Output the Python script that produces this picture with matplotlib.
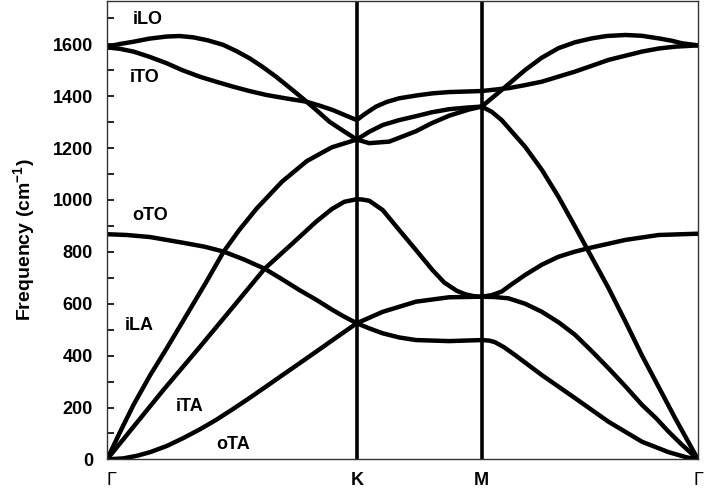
import numpy as np
import matplotlib
matplotlib.use('Agg')
import matplotlib.pyplot as plt

plt.rcParams['font.family'] = ['Liberation Sans', 'DejaVu Sans']
plt.rcParams['mathtext.fontset'] = 'custom'
plt.rcParams['mathtext.rm'] = 'Liberation Sans'
plt.rcParams['mathtext.bf'] = 'Liberation Sans:bold'

# high-symmetry points (distance along path, |ΓK| = 1)
k_pos = [0.0, 1.0, 1.5, 2.366]
k_labels = ['Γ', 'K', 'M', 'Γ']

# phonon branches, path Γ-K-M-Γ
oTA_x = [0, 0.066, 0.12, 0.173, 0.24, 0.305, 0.372, 0.438, 0.504, 0.571, 0.637, 0.704, 0.77, 0.837, 0.93, 1.0,
         1.05, 1.104, 1.17, 1.237, 1.37, 1.5,
         1.53, 1.553, 1.59, 1.634, 1.741, 1.874, 2.008, 2.142, 2.248, 2.32, 2.366]
oTA_y = [0, 4, 14, 28, 52, 82, 116, 153, 194, 237, 281, 326, 370, 415, 478, 525,
         505, 486, 470, 460, 456, 460,
         458, 452, 432, 402, 325, 236, 145, 68, 28, 8, 0]

oTO_x = [0, 0.08, 0.173, 0.305, 0.39, 0.467, 0.55, 0.631, 0.7, 0.77, 0.84, 0.903, 0.95, 1.0,
         1.05, 1.104, 1.237, 1.37, 1.5,
         1.54, 1.58, 1.62, 1.674, 1.74, 1.807, 1.87, 1.927, 2.075, 2.208, 2.366]
oTO_y = [868, 865, 857, 835, 820, 801, 770, 735, 695, 653, 614, 576, 550, 525,
         546, 569, 608, 625, 627,
         633, 647, 675, 711, 750, 781, 800, 814, 846, 865, 870]

iTA_x = [0, 0.226, 0.372, 0.504, 0.631, 0.743, 0.837, 0.90, 0.95, 1.0,
         1.02, 1.05, 1.104, 1.17, 1.237, 1.303, 1.35, 1.4, 1.436, 1.47, 1.5,
         1.55, 1.607, 1.674, 1.741, 1.81, 1.874, 1.94, 2.008, 2.075, 2.142, 2.2, 2.248, 2.3, 2.366]
iTA_y = [0, 268, 434, 587, 735, 833, 916, 965, 993, 1003,
         1002, 997, 961, 884, 807, 730, 682, 650, 636, 629, 627,
         626, 621, 600, 569, 527, 480, 418, 351, 282, 210, 157, 107, 58, 0]

iLA_x = [0, 0.053, 0.106, 0.173, 0.239, 0.319, 0.398, 0.467, 0.53, 0.6, 0.7, 0.8, 0.9, 1.0,
         1.05, 1.13, 1.237, 1.3, 1.37, 1.45, 1.5,
         1.54, 1.58, 1.674, 1.741, 1.807, 1.874, 1.94, 2.008, 2.075, 2.142, 2.208, 2.275, 2.366]
iLA_y = [0, 107, 210, 325, 428, 557, 685, 801, 885, 968, 1070, 1150, 1203, 1233,
         1219, 1225, 1265, 1296, 1325, 1349, 1360,
         1340, 1308, 1205, 1116, 1013, 897, 780, 660, 532, 400, 280, 158, 0]

iLO_x = [0, 0.05, 0.106, 0.17, 0.239, 0.29, 0.345, 0.405, 0.465, 0.52, 0.571, 0.62, 0.677, 0.73, 0.783,
         0.84, 0.89, 0.945, 1.0,
         1.05, 1.104, 1.17, 1.237, 1.3, 1.37, 1.44, 1.5,
         1.58, 1.674, 1.74, 1.807, 1.874, 1.941, 2.0, 2.075, 2.14, 2.208, 2.26, 2.302, 2.366]
iLO_y = [1591, 1601, 1610, 1622, 1630, 1632, 1627, 1615, 1598, 1573, 1546, 1515, 1475, 1434, 1392,
         1345, 1302, 1267, 1233,
         1263, 1289, 1308, 1323, 1338, 1350, 1356, 1360,
         1424, 1501, 1548, 1585, 1608, 1623, 1632, 1636, 1633, 1623, 1614, 1604, 1596]

iTO_x = [0, 0.05, 0.106, 0.17, 0.239, 0.3, 0.372, 0.44, 0.504, 0.57, 0.637, 0.72, 0.797, 0.85, 0.903, 0.95, 1.0,
         1.03, 1.077, 1.12, 1.17, 1.24, 1.303, 1.37, 1.436, 1.5,
         1.607, 1.67, 1.741, 1.874, 1.94, 2.008, 2.142, 2.21, 2.275, 2.366]
iTO_y = [1588, 1583, 1572, 1552, 1527, 1501, 1475, 1455, 1437, 1420, 1405, 1391, 1379, 1364, 1347, 1328, 1308,
         1330, 1360, 1378, 1392, 1403, 1411, 1416, 1418, 1420,
         1431, 1442, 1456, 1495, 1517, 1540, 1572, 1584, 1591, 1596]

branch_names = ['iLO', 'iTO', 'oTO', 'iLA', 'iTA', 'oTA']
label_x = [0.165, 0.151, 0.171, 0.131, 0.331, 0.506]
label_y = [1694, 1474, 942, 518, 202, 56]

fig = plt.figure(figsize=(7.05, 4.94), dpi=100)
ax = fig.add_axes([107 / 705, 1 - 459.4 / 494, 591 / 705, 458.4 / 494])

for xs, ys in [(oTA_x, oTA_y), (oTO_x, oTO_y), (iTA_x, iTA_y),
               (iLA_x, iLA_y), (iLO_x, iLO_y), (iTO_x, iTO_y)]:
    ax.plot(xs, ys, color='black', lw=3.2, solid_joinstyle='round',
            solid_capstyle='round')

for p in k_pos[1:3]:
    ax.axvline(p, color='black', lw=2.6)

for name, tx, ty in zip(branch_names, label_x, label_y):
    ax.text(tx, ty, name, fontsize=13, fontweight='bold',
            ha='center', va='center')

ax.set_xlim(0, 2.366)
ax.set_ylim(0, 1767)
ax.set_xticks(k_pos)
ax.set_xticklabels(k_labels)
ax.set_yticks(np.arange(0, 1601, 200))
ax.set_yticks(np.arange(100, 1800, 200), minor=True)
ax.tick_params(axis='y', which='both', direction='in', length=5, width=1.2,
               labelsize=13, pad=10)
ax.tick_params(axis='x', length=0, labelsize=13, pad=9)
for lab in ax.get_yticklabels():
    lab.set_fontweight('bold')
xl = ax.get_xticklabels()
for lab in xl[1:3]:
    lab.set_fontweight('bold')
xl[0].set_ha('left')

for s in ax.spines.values():
    s.set_linewidth(1.0)
    s.set_color('#333333')

fig.text(25 / 705, 1 - 240 / 494, r'Frequency (cm$^{\mathbf{-1}}$)',
         rotation=90, fontsize=14, fontweight='bold', ha='center', va='center')

plt.savefig('out.png', dpi=100)
